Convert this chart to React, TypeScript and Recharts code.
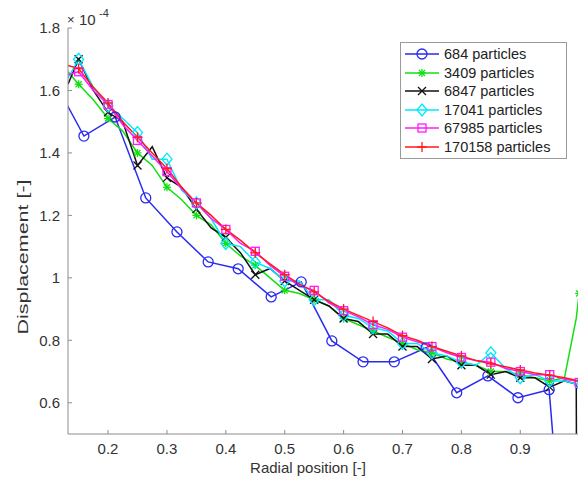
import React from 'react'
import { LineChart, Line, XAxis, YAxis, Legend } from 'recharts'

// radial bins shared by the finer runs
const radialGrid = [
  0.132, 0.15, 0.175, 0.2, 0.225, 0.25, 0.275, 0.3, 0.325, 0.35, 0.375, 0.4,
  0.425, 0.45, 0.475, 0.5, 0.525, 0.55, 0.575, 0.6, 0.625, 0.65, 0.675, 0.7,
  0.725, 0.75, 0.775, 0.8, 0.825, 0.85, 0.875, 0.9, 0.925, 0.95, 0.975, 0.995, 1.0,
]

// coarse run (684 particles) has its own bins
const blueRadial = [
  0.106, 0.159, 0.212, 0.264, 0.317, 0.37, 0.421, 0.477, 0.528, 0.58, 0.633,
  0.686, 0.74, 0.792, 0.845, 0.896, 0.949, 1.002,
]
const blueDisp = [
  1.64, 1.454, 1.515, 1.256, 1.147, 1.051, 1.029, 0.939, 0.987, 0.798, 0.731,
  0.731, 0.776, 0.632, 0.686, 0.616, 0.642, -0.6,
]

// displacement, units of 1e-4
const greenDisp = [
  1.66, 1.62, 1.57, 1.51, 1.47, 1.4, 1.36, 1.29, 1.25, 1.2, 1.17, 1.11,
  1.07, 1.04, 1.0, 0.96, 0.95, 0.93, 0.91, 0.87, 0.85, 0.83, 0.81, 0.79,
  0.77, 0.76, 0.74, 0.73, 0.72, 0.7, 0.7, 0.69, 0.68, 0.67, 0.68, 0.87, 0.95,
]
const blackDisp = [
  1.62, 1.7, 1.6, 1.53, 1.5, 1.36, 1.42, 1.32, 1.29, 1.22, 1.16, 1.13,
  1.08, 1.01, 1.03, 0.99, 0.96, 0.93, 0.91, 0.87, 0.86, 0.82, 0.82, 0.78,
  0.78, 0.74, 0.75, 0.72, 0.72, 0.69, 0.7, 0.68, 0.68, 0.65, 0.67, 0.66, -2.0,
]
const cyanDisp = [
  1.64, 1.7, 1.61, 1.55, 1.51, 1.465, 1.38, 1.38, 1.28, 1.24, 1.19, 1.11,
  1.1, 1.05, 1.03, 0.99, 0.99, 0.93, 0.93, 0.88, 0.87, 0.84, 0.83, 0.79,
  0.79, 0.76, 0.75, 0.73, 0.72, 0.76, 0.71, 0.68, 0.69, 0.67, 0.67, 0.66, 0.66,
]
const magentaDisp = [
  1.65, 1.66, 1.6, 1.555, 1.49, 1.44, 1.39, 1.34, 1.285, 1.24, 1.19, 1.155,
  1.11, 1.085, 1.04, 1.005, 0.975, 0.96, 0.92, 0.895, 0.875, 0.85, 0.835, 0.81,
  0.795, 0.78, 0.76, 0.745, 0.735, 0.73, 0.71, 0.7, 0.69, 0.69, 0.675, 0.67, 0.665,
]
const redDisp = [
  1.68, 1.67, 1.61, 1.56, 1.5, 1.45, 1.4, 1.35, 1.29, 1.24, 1.2, 1.155,
  1.12, 1.08, 1.045, 1.01, 0.98, 0.955, 0.925, 0.9, 0.88, 0.86, 0.84, 0.815,
  0.8, 0.78, 0.765, 0.75, 0.735, 0.725, 0.715, 0.705, 0.695, 0.688, 0.68, 0.672, 0.67,
]

const xTicks = [0.2, 0.3, 0.4, 0.5, 0.6, 0.7, 0.8, 0.9]
const yTicks = [0.6, 0.8, 1, 1.2, 1.4, 1.6, 1.8]

const FONT = '"Liberation Sans", Arial, Helvetica, sans-serif'
const AXIS = '#8c8c8c'
const TEXT = '#333'

type Shape = 'circle' | 'asterisk' | 'cross' | 'diamond' | 'square' | 'plus'

function Marker({ shape, x, y, color }: { shape: Shape; x: number; y: number; color: string }) {
  const sw = 1.3
  switch (shape) {
    case 'circle':
      return <circle cx={x} cy={y} r={5} fill="none" stroke={color} strokeWidth={sw} />
    case 'square':
      return <rect x={x - 4} y={y - 4} width={8} height={8} fill="none" stroke={color} strokeWidth={sw} />
    case 'diamond':
      return <polygon points={`${x},${y - 6} ${x + 5},${y} ${x},${y + 6} ${x - 5},${y}`} fill="none" stroke={color} strokeWidth={sw} />
    case 'cross':
      return (
        <g stroke={color} strokeWidth={sw}>
          <line x1={x - 4} y1={y - 4} x2={x + 4} y2={y + 4} />
          <line x1={x - 4} y1={y + 4} x2={x + 4} y2={y - 4} />
        </g>
      )
    case 'plus':
      return (
        <g stroke={color} strokeWidth={sw}>
          <line x1={x - 5} y1={y} x2={x + 5} y2={y} />
          <line x1={x} y1={y - 5} x2={x} y2={y + 5} />
        </g>
      )
    default:
      return (
        <g stroke={color} strokeWidth={sw}>
          <line x1={x - 4} y1={y} x2={x + 4} y2={y} />
          <line x1={x} y1={y - 4} x2={x} y2={y + 4} />
          <line x1={x - 3} y1={y - 3} x2={x + 3} y2={y + 3} />
          <line x1={x - 3} y1={y + 3} x2={x + 3} y2={y - 3} />
        </g>
      )
  }
}

const toRows = (xs: number[], ys: number[]) => xs.map((r, i) => ({ r, d: ys[i] }))

const series = [
  { name: '684 particles', color: '#2a2af0', shape: 'circle' as Shape, data: toRows(blueRadial, blueDisp), every: true },
  { name: '3409 particles', color: '#10e010', shape: 'asterisk' as Shape, data: toRows(radialGrid, greenDisp), every: false },
  { name: '6847 particles', color: '#111111', shape: 'cross' as Shape, data: toRows(radialGrid, blackDisp), every: false },
  { name: '17041 particles', color: '#00e8ff', shape: 'diamond' as Shape, data: toRows(radialGrid, cyanDisp), every: false },
  { name: '67985 particles', color: '#ff1aff', shape: 'square' as Shape, data: toRows(radialGrid, magentaDisp), every: false },
  { name: '170158 particles', color: '#ff1a1a', shape: 'plus' as Shape, data: toRows(radialGrid, redDisp), every: false },
]

// markers only every 0.05 on the fine runs
const onMarker = (r: number) => {
  const k = (r - 0.15) / 0.05
  return r >= 0.149 && Math.abs(k - Math.round(k)) < 1e-6
}

const LegendBox = () => (
  <div style={{ border: '1px solid #9a9a9a', background: '#fff', padding: '2px 0', fontFamily: FONT }}>
    {series.map(s => (
      <div key={s.name} style={{ display: 'flex', alignItems: 'center', height: 18.5 }}>
        <svg width={43} height={18} style={{ display: 'block' }}>
          <line x1={4} x2={38} y1={9} y2={9} stroke={s.color} strokeWidth={1.3} />
          <Marker shape={s.shape} x={21} y={9} color={s.color} />
        </svg>
        <span style={{ fontSize: 14.5, color: '#222', lineHeight: '18px' }}>{s.name}</span>
      </div>
    ))}
  </div>
)

export default function App() {
  return (
    <div style={{ position: 'absolute', left: 0, top: 0, background: '#fff' }}>
      <LineChart width={578} height={479} margin={{ top: 28, right: 0, bottom: 0, left: 0 }}>
        <XAxis
          dataKey="r"
          type="number"
          domain={[0.132, 0.998]}
          ticks={xTicks}
          interval={0}
          allowDataOverflow
          height={45}
          stroke={AXIS}
          tickSize={-4}
          tickMargin={13}
          tick={{ fill: TEXT, fontSize: 15, fontFamily: FONT }}
          tickFormatter={v => String(v)}
          label={() => (
            <text x={308} y={473} textAnchor="middle" fontSize={15} fill={TEXT} fontFamily={FONT}>
              Radial position [-]
            </text>
          )}
        />
        <YAxis
          type="number"
          domain={[0.5, 1.8]}
          ticks={yTicks}
          interval={0}
          allowDataOverflow
          width={68}
          stroke={AXIS}
          tickSize={-4}
          tickMargin={12}
          tick={{ fill: TEXT, fontSize: 15, fontFamily: FONT }}
          tickFormatter={v => String(v)}
          label={() => (
            <g fontFamily={FONT} fill={TEXT}>
              <text
                transform="translate(28,257) rotate(-90)"
                textAnchor="middle"
                fontSize={15}
                textLength={155}
                lengthAdjust="spacingAndGlyphs"
              >
                Displacement [-]
              </text>
              <text x={67} y={24} fontSize={13}>×</text>
              <text x={79} y={25} fontSize={15}>10</text>
              <text x={99} y={17} fontSize={11}>-4</text>
            </g>
          )}
        />
        <Legend
          verticalAlign="middle"
          align="center"
          content={() => <LegendBox />}
          wrapperStyle={{ top: 42, left: 400, width: 167, height: 'auto' }}
        />
        {series.map(s => (
          <Line
            key={s.name}
            name={s.name}
            data={s.data}
            dataKey="d"
            type="linear"
            stroke={s.color}
            strokeWidth={1.5}
            isAnimationActive={false}
            activeDot={false}
            dot={(p: any) => {
              const { cx, cy, index, payload } = p
              if (!s.every && !onMarker(payload.r)) return <g key={`${s.name}-${index}`} />
              return (
                <g key={`${s.name}-${index}`}>
                  <Marker shape={s.shape} x={cx} y={cy} color={s.color} />
                </g>
              )
            }}
          />
        ))}
      </LineChart>
    </div>
  )
}
